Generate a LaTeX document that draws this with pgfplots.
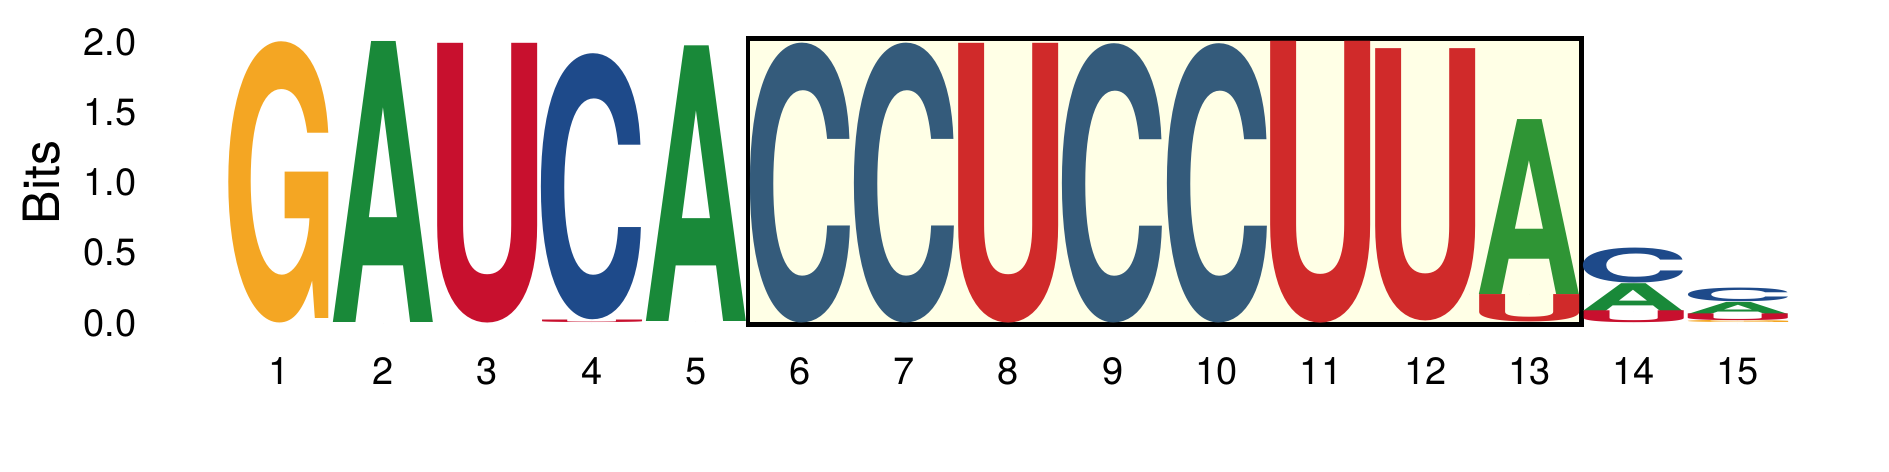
\documentclass[border=0pt]{standalone}
\usepackage{fontspec}
\setmainfont{TeX Gyre Heros}
\usepackage{graphicx}
\usepackage{pgfplots}
\usepackage{pgfplotstable}
\pgfplotsset{compat=1.18}

\definecolor{gorange}{HTML}{F4A623}
\definecolor{aout}{HTML}{198939}
\definecolor{uout}{HTML}{C8102E}
\definecolor{cout}{HTML}{1E4A8A}
\definecolor{cin}{HTML}{345B7B}
\definecolor{uin}{HTML}{D02A2A}
\definecolor{ain}{HTML}{2F9535}
\definecolor{boxfill}{HTML}{FFFFE6}

% letter with its side bearings cut off, so the ink fills the column
\newcommand\ink[1]{\bfseries\kern-\XeTeXglyphbounds1 \XeTeXcharglyph`#1\relax #1\kern-\XeTeXglyphbounds3 \XeTeXcharglyph`#1\relax}

% x = position, y = bottom of the letter (bits), h = height (bits)
\pgfplotstableread{
x y h
1 0 2.0
15 0 0.016
}\Gout
\pgfplotstableread{
x y h
2 0 2.0
5 0.008 1.962
14 0.085 0.198
15 0.064 0.086
}\Aout
\pgfplotstableread{
x y h
3 0 1.99
4 0 0.018
14 0 0.085
15 0.016 0.048
}\Uout
\pgfplotstableread{
x y h
4 0.02 1.892
14 0.283 0.249
15 0.15 0.097
}\Cout
\pgfplotstableread{
x y h
6 0 1.99
7 0 1.99
9 0 1.986
10 0 1.986
}\Cin
\pgfplotstableread{
x y h
8 0 1.99
11 0 2.005
12 0.015 1.937
13 0.005 0.195
}\Uin
\pgfplotstableread{
x y h
13 0.2 1.245
}\Ain

\pgfplotsset{logo/.style n args={2}{
    only marks, mark=*, mark size=0pt,
    mark options={draw=none, fill=none},
    visualization depends on={35.125*\thisrow{h} \as \hh},
    point meta=\thisrow{h},
    nodes near coords={\resizebox*{25pt}{\hh pt}{\color{#1}\ink{#2}}},
    every node near coord/.append style={anchor=south, inner sep=0pt, outer sep=0pt},
}}

\begin{document}
\begin{tikzpicture}
\path[use as bounding box] (-56.75pt,-37.25pt) rectangle (415.5pt,80.75pt);
\begin{axis}[
    at={(0pt,0pt)}, anchor=south west,
    scale only axis,
    width=390.75pt, height=70.25pt,
    xmin=0.5, xmax=15.5,
    ymin=0, ymax=2,
    clip=false,
    axis line style={draw=none},
    tick style={draw=none},
    xtick={1,...,15},
    ytick={0,0.5,1,1.5,2},
    /pgf/number format/assume math mode=true,
    yticklabel style={/pgf/number format/fixed, /pgf/number format/fixed zerofill,
        /pgf/number format/precision=1},
    ticklabel style={font=\fontsize{9.5pt}{11pt}\selectfont},
    xticklabel style={inner sep=0pt, anchor=north, yshift=-8.5pt},
    yticklabel style={inner sep=0pt, anchor=east, xshift=-22.5pt},
    ylabel={Bits},
    every axis y label/.style={at={(rel axis cs:-0.1184,0.5)}, rotate=90, anchor=center,
        font=\fontsize{12.5pt}{14pt}\selectfont},
]
\addplot[draw=black, line width=1.15pt, fill=boxfill]
    coordinates {(5.5,-0.012) (13.5,-0.012) (13.5,2.026) (5.5,2.026)} -- cycle;

\addplot[logo={gorange}{G}] table {\Gout};
\addplot[logo={aout}{A}] table {\Aout};
\addplot[logo={uout}{U}] table {\Uout};
\addplot[logo={cout}{C}] table {\Cout};
\addplot[logo={cin}{C}] table {\Cin};
\addplot[logo={uin}{U}] table {\Uin};
\addplot[logo={ain}{A}] table {\Ain};
\end{axis}
\end{tikzpicture}
\end{document}
